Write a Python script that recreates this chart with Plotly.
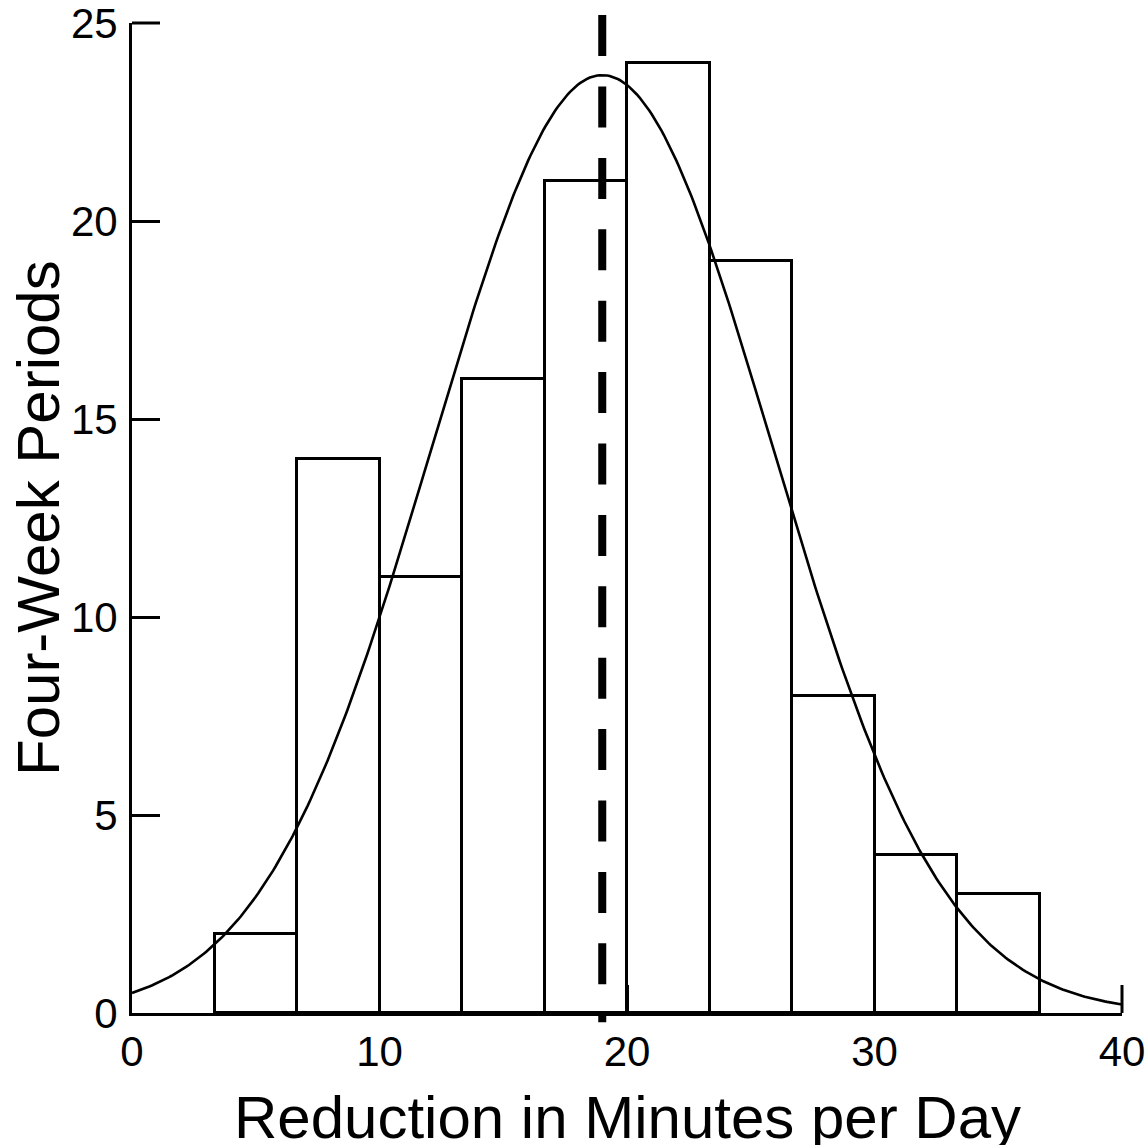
import numpy as np
import plotly.graph_objects as go

# ---- data ----
bin_width = 10 / 3
bin_starts = [10/3, 20/3, 10, 40/3, 50/3, 20, 70/3, 80/3, 30, 100/3]
counts = [2, 14, 11, 16, 21, 24, 19, 8, 4, 3]
fit_mean = 19.0      # mean of fitted normal (also the dashed line)
fit_sd = 6.85        # sd of fitted normal
x_ticks = [0, 10, 20, 30, 40]
y_ticks = [0, 5, 10, 15, 20, 25]
x_range = [0, 40]
y_range = [0, 25]
x_title = "Reduction in Minutes per Day"
y_title = "Four-Week Periods"

centers = [s + bin_width / 2 for s in bin_starts]
n_total = sum(counts)
xc = np.linspace(x_range[0], x_range[1], 401)
yc = n_total * bin_width * np.exp(-0.5 * ((xc - fit_mean) / fit_sd) ** 2) / (fit_sd * np.sqrt(2 * np.pi))

TICK_LEN = 28
TICK_W = 3

fig = go.Figure()
fig.add_trace(go.Bar(
    x=centers, y=counts, width=[bin_width] * len(counts),
    marker=dict(color="white", line=dict(color="black", width=3)),
    showlegend=False, hoverinfo="skip",
))
fig.add_trace(go.Scatter(
    x=xc, y=yc, mode="lines", line=dict(color="black", width=2.6),
    showlegend=False, hoverinfo="skip",
))

def x_to_paper(v):
    return (v - x_range[0]) / (x_range[1] - x_range[0])

def y_to_paper(v):
    return (v - y_range[0]) / (y_range[1] - y_range[0])

# dashed mean line (extends slightly beyond the plot area)
fig.add_shape(type="line", xref="paper", yref="paper",
              x0=x_to_paper(fit_mean), x1=x_to_paper(fit_mean), y0=1.008, y1=-0.0093,
              line=dict(color="black", width=8, dash="41px,30.4px"),
              layer="above")

# inside ticks at the far ends of the axes (plotly omits inside ticks at range ends)
fig.add_shape(type="line", xref="paper", yref="paper", ysizemode="pixel",
              yanchor=0, x0=x_to_paper(x_ticks[-1]), x1=x_to_paper(x_ticks[-1]),
              y0=0, y1=TICK_LEN, line=dict(color="black", width=TICK_W), layer="above")
fig.add_shape(type="line", xref="paper", yref="paper", xsizemode="pixel",
              xanchor=0, x0=0, x1=TICK_LEN,
              y0=y_to_paper(y_ticks[-1]), y1=y_to_paper(y_ticks[-1]),
              line=dict(color="black", width=TICK_W), layer="above")

font_family = "Liberation Sans, Arial, sans-serif"
fig.add_annotation(text=x_title, xref="paper", yref="paper", x=0.5, y=0,
                   xanchor="center", yanchor="middle", yshift=-104, showarrow=False,
                   font=dict(size=60, family=font_family, color="black"))
fig.add_annotation(text=y_title, xref="paper", yref="paper", x=0, y=0.5,
                   xanchor="center", yanchor="middle", xshift=-94, showarrow=False,
                   textangle=-90,
                   font=dict(size=60, family=font_family, color="black"))

fig.update_layout(
    width=1145, height=1145,
    margin=dict(l=132, r=23, t=23, b=132, autoexpand=False),
    paper_bgcolor="white", plot_bgcolor="white",
    bargap=0,
    font=dict(family=font_family, color="black"),
    xaxis=dict(
        range=x_range, tickvals=x_ticks, ticktext=[str(v) for v in x_ticks],
        showgrid=False, zeroline=False, showline=True, linecolor="black", linewidth=3,
        ticks="inside", ticklen=TICK_LEN, tickwidth=TICK_W, tickcolor="black",
        tickfont=dict(size=42, family=font_family, color="black"),
        ticklabeloverflow="allow",
        automargin=False,
    ),
    yaxis=dict(
        range=y_range, tickvals=y_ticks, ticktext=[str(v) for v in y_ticks],
        showgrid=False, zeroline=False, showline=True, linecolor="black", linewidth=3,
        ticks="inside", ticklen=TICK_LEN, tickwidth=TICK_W, tickcolor="black",
        tickfont=dict(size=42, family=font_family, color="black"),
        ticklabelstandoff=3,
        ticklabeloverflow="allow",
        automargin=False,
    ),
)

fig.write_html("out.html", config={"displayModeBar": False},
               post_script="document.body.style.margin='0';document.body.style.overflow='hidden';")
